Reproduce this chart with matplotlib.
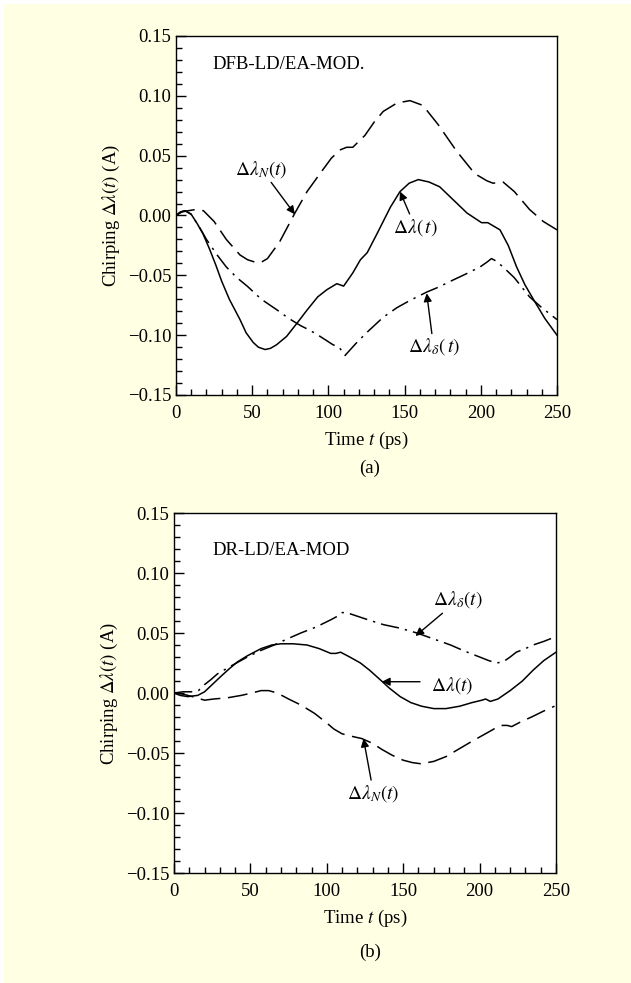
import matplotlib
matplotlib.use("Agg")
import matplotlib.pyplot as plt
from matplotlib.patches import Rectangle

plt.rcParams['font.family'] = ['Liberation Serif', 'DejaVu Serif']
plt.rcParams['mathtext.fontset'] = 'stix'

# ---- panel (a): DFB-LD/EA-MOD. ----
a_t_total = [0, 3, 6, 10, 14, 17.6, 22, 26, 30, 35, 42, 46, 50.6, 54, 58.4, 62, 66, 72.6, 80,
             86, 93, 99, 105.5, 110, 116, 121, 125.5, 132, 140.7, 147, 153, 159, 166, 173,
             182, 191, 200.5, 204.6, 212.6, 218, 223.5, 229, 234.5, 242, 250]
a_total = [0, 0.003, 0.004, 0.001, -0.007, -0.015, -0.028, -0.041, -0.055, -0.070, -0.087,
           -0.098, -0.106, -0.110, -0.112, -0.111, -0.108, -0.101, -0.089, -0.079, -0.068,
           -0.062, -0.057, -0.059, -0.048, -0.037, -0.031, -0.015, 0.007, 0.020, 0.027,
           0.030, 0.028, 0.024, 0.013, 0.002, -0.006, -0.006, -0.012, -0.025, -0.043,
           -0.058, -0.070, -0.086, -0.100]

a_t_n = [0, 4, 8, 13, 18, 25, 33, 42, 47, 52, 56, 60, 68, 78, 86, 94.5, 102, 108, 112, 116,
         124, 130, 136, 145, 153.5, 162, 172, 184, 196, 204, 208, 214.6, 222, 232, 241, 250]
a_n = [0, 0.003, 0.004, 0.005, 0.004, -0.005, -0.020, -0.033, -0.037, -0.039, -0.039,
       -0.036, -0.022, 0.002, 0.020, 0.035, 0.048, 0.055, 0.057, 0.057, 0.067, 0.078, 0.087,
       0.094, 0.096, 0.092, 0.076, 0.054, 0.035, 0.029, 0.027, 0.028, 0.020, 0.005, -0.005,
       -0.012]

a_t_d = [0, 3, 6, 10, 15, 20, 27, 33, 40, 46.7, 56, 66.4, 74, 81.7, 88, 94.5, 103, 107,
         110.9, 118, 125, 136, 145, 153.5, 164.5, 172, 180, 190, 199.5, 204, 207, 210, 214.6,
         222, 232, 240, 250]
a_d = [0, 0.003, 0.004, 0.001, -0.009, -0.020, -0.033, -0.043, -0.052, -0.059, -0.070,
       -0.079, -0.086, -0.092, -0.096, -0.101, -0.108, -0.110, -0.117, -0.107, -0.098,
       -0.085, -0.077, -0.071, -0.064, -0.060, -0.055, -0.049, -0.043, -0.039, -0.036,
       -0.038, -0.043, -0.052, -0.068, -0.077, -0.087]

# ---- panel (b): DR-LD/EA-MOD ----
b_t_total = [0, 4, 9, 15.5, 20, 25, 30.8, 36, 41.6, 48, 57, 64, 70, 78, 87, 95, 102.6, 106,
             109, 115, 122, 128, 135, 141, 148, 155, 162, 170, 178, 187, 195, 201.5, 204,
             207, 212, 220, 228, 235, 242, 250]
b_total = [0, -0.002, -0.003, -0.002, 0.001, 0.007, 0.014, 0.020, 0.026, 0.031, 0.037,
           0.040, 0.041, 0.041, 0.040, 0.037, 0.033, 0.033, 0.034, 0.030, 0.025, 0.019,
           0.011, 0.004, -0.003, -0.008, -0.011, -0.013, -0.013, -0.011, -0.008, -0.006,
           -0.005, -0.007, -0.005, 0.002, 0.010, 0.019, 0.027, 0.034]

b_t_n = [0, 6, 12, 20, 26, 35, 44, 51, 57, 62, 67.5, 75, 83, 92, 100, 104.6, 110, 116,
         123, 130, 136, 143, 150, 156, 161.7, 170, 178, 186, 194, 201, 208, 212, 215, 218,
         221, 227, 234, 242, 249]
b_n = [0, -0.001, -0.003, -0.006, -0.005, -0.004, -0.002, 0.000, 0.002, 0.002, 0.000,
       -0.005, -0.010, -0.017, -0.025, -0.030, -0.034, -0.036, -0.038, -0.042, -0.047,
       -0.052, -0.056, -0.058, -0.059, -0.057, -0.053, -0.047, -0.041, -0.036, -0.031,
       -0.028, -0.027, -0.027, -0.028, -0.024, -0.020, -0.015, -0.011]

b_t_d = [0, 6, 12, 16, 20, 24, 28.5, 38, 48, 56, 65.5, 74, 83, 93, 102.6, 107, 110, 113,
         117.6, 127, 137, 148, 159, 170, 181, 190, 200, 206, 211, 215.5, 220, 224, 230, 235,
         242, 250]
b_d = [0, 0.001, 0.001, 0.002, 0.007, 0.011, 0.016, 0.023, 0.030, 0.035, 0.040, 0.045,
       0.050, 0.055, 0.061, 0.064, 0.067, 0.067, 0.065, 0.061, 0.057, 0.054, 0.050, 0.045,
       0.040, 0.035, 0.030, 0.027, 0.025, 0.026, 0.030, 0.034, 0.037, 0.040, 0.043, 0.047]

bg = '#FFFFE3'
fig = plt.figure(figsize=(6.31, 9.83), dpi=100)
fig.patch.set_facecolor('white')
fig.add_artist(Rectangle((4 / 631, 0), 1, 1 - 4 / 983, transform=fig.transFigure,
                         facecolor=bg, edgecolor='none', zorder=-10))

ax_a = fig.add_axes([176 / 631, 1 - 395 / 983, 381 / 631, 359 / 983])
ax_b = fig.add_axes([174 / 631, 1 - 873 / 983, 382 / 631, 360 / 983])

dash = (0, (13, 5))
dashdot = (0, (12, 4, 1.5, 4))


def style_axes(ax):
    ax.set_xlim(0, 250)
    ax.set_ylim(-0.15, 0.15)
    ax.set_xticks([0, 50, 100, 150, 200, 250])
    ax.set_xticks(range(0, 251, 10), minor=True)
    ax.set_yticks([-0.15, -0.10, -0.05, 0.00, 0.05, 0.10, 0.15])
    ax.set_yticklabels(['\u22120.15', '\u22120.10', '\u22120.05', '0.00', '0.05', '0.10', '0.15'])
    ax.set_yticks([i / 100 for i in range(-15, 16)], minor=True)
    ax.tick_params(which='both', direction='in', top=False, right=False, labelsize=13.5,
                   width=1.0)
    ax.tick_params(which='major', length=7)
    ax.tick_params(which='minor', length=4)
    ax.tick_params(axis='x', which='major', pad=7)
    ax.set_xlabel(r'Time $t$ (ps)', fontsize=13.5, labelpad=6)
    ax.set_ylabel(r'Chirping $\Delta\lambda(t)$ (A)', fontsize=13.5, labelpad=4)
    for s in ax.spines.values():
        s.set_linewidth(1.0)


arrow = dict(arrowstyle='-|>', color='black', lw=1.0, mutation_scale=12, shrinkA=0, shrinkB=0)

# panel (a)
ax_a.plot(a_t_total, a_total, color='black', lw=1.1, linestyle='-')
ax_a.plot(a_t_n, a_n, color='black', lw=1.1, linestyle=dash)
ax_a.plot(a_t_d, a_d, color='black', lw=1.1, linestyle=dashdot)
style_axes(ax_a)
ax_a.text(24, 0.126, 'DFB-LD/EA-MOD.', fontsize=13.5, va='center', ha='left')
ax_a.annotate(r'$\Delta\lambda_N(t)$', xy=(78, 0.001), xytext=(56, 0.030), fontsize=14,
              ha='center', va='bottom', arrowprops=arrow)
ax_a.annotate(r'$\Delta\lambda(\,t)$', xy=(147, 0.020), xytext=(157, -0.001), fontsize=14,
              ha='center', va='top', arrowprops=arrow)
ax_a.annotate(r'$\Delta\lambda_\delta(\,t)$', xy=(164.5, -0.065), xytext=(169, -0.101),
              fontsize=14, ha='center', va='top', arrowprops=arrow)
fig.text(370 / 631, 1 - 468 / 983, '(a)', fontsize=13.5, ha='center', va='center')

# panel (b)
ax_b.plot(b_t_total, b_total, color='black', lw=1.1, linestyle='-')
ax_b.plot(b_t_n, b_n, color='black', lw=1.1, linestyle=dash)
ax_b.plot(b_t_d, b_d, color='black', lw=1.1, linestyle=dashdot)
style_axes(ax_b)
ax_b.text(25, 0.119, 'DR-LD/EA-MOD', fontsize=13.5, va='center', ha='left')
ax_b.annotate(r'$\Delta\lambda_\delta(t)$', xy=(158, 0.0475), xytext=(186, 0.0775),
              fontsize=14, ha='center', va='center', arrowprops=arrow)
ax_b.annotate('', xy=(136, 0.0094), xytext=(161, 0.0094), arrowprops=arrow)
ax_b.text(182, 0.006, r'$\Delta\lambda(t)$', fontsize=14, ha='center', va='center')
ax_b.annotate(r'$\Delta\lambda_N(t)$', xy=(124, -0.038), xytext=(130.6, -0.0836),
              fontsize=14, ha='center', va='center', arrowprops=arrow)
fig.text(370 / 631, 1 - 952 / 983, '(b)', fontsize=13.5, ha='center', va='center')

fig.savefig('out.png', dpi=100, facecolor=fig.get_facecolor())
